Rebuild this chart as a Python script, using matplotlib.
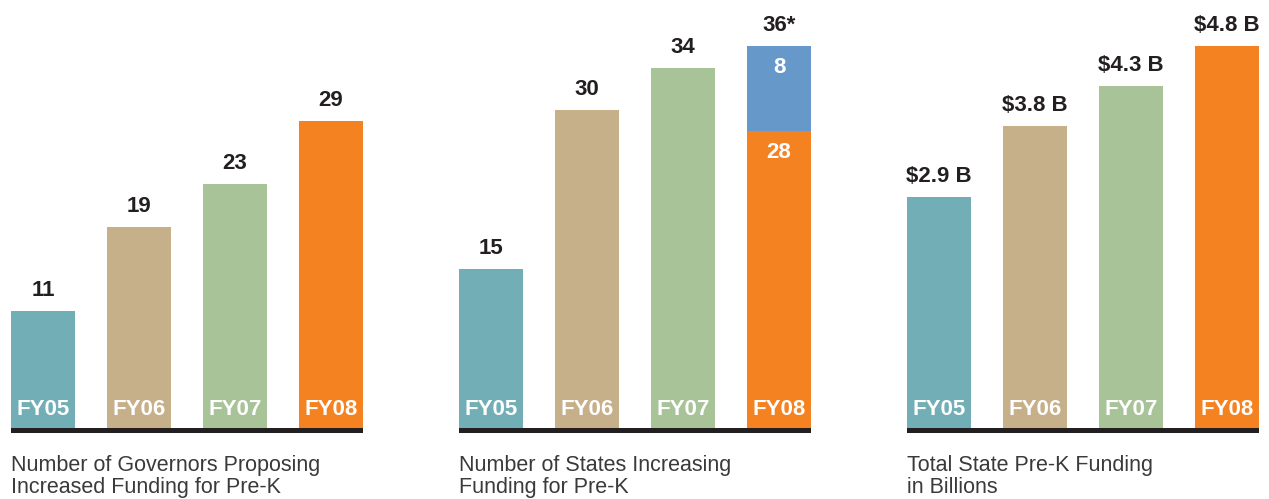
import matplotlib
matplotlib.use("Agg")
import matplotlib.pyplot as plt
from matplotlib.patches import Rectangle

plt.rcParams['font.family'] = ['Liberation Sans', 'DejaVu Sans']

# ---- data ----
years = ["FY05", "FY06", "FY07", "FY08"]
governors = [11, 19, 23, 29]
states_total = [15, 30, 34, 36]
states_fy08_base = 28
states_fy08_extra = 8
funding = [2.9, 3.8, 4.3, 4.8]
funding_labels = ["$2.9 B", "$3.8 B", "$4.3 B", "$4.8 B"]
states_labels = ["15", "30", "34", "36*"]
captions = [
    ["Number of Governors Proposing", "Increased Funding for Pre-K"],
    ["Number of States Increasing", "Funding for Pre-K"],
    ["Total State Pre-K Funding", "in Billions"],
]

colors = ["#72aeb5", "#c6b08a", "#a8c398", "#f58220"]
blue = "#6699c9"
dark = "#231f20"

W, H = 1269, 499
fig = plt.figure(figsize=(W / 100, H / 100), dpi=100)

base_px = 428          # baseline (from top)
panel_left = [11, 459, 907]
panel_w = 352
scales = [10.6, 10.6, 79.5]   # px per unit

axes = []
for i in range(3):
    ax = fig.add_axes([panel_left[i] / W, (H - base_px) / H, panel_w / W, base_px / H])
    ax.set_xlim(-1 / 3, 3 + 1 / 3)
    ax.set_ylim(0, base_px / scales[i])
    ax.axis('off')
    axes.append(ax)
    # baseline bar
    fig.add_artist(Rectangle((panel_left[i] / W, (H - base_px - 5) / H), panel_w / W, 5 / H,
                             transform=fig.transFigure, color="#231f20", lw=0))

x = list(range(4))
bw = 2 / 3
lab_kw = dict(ha='center', va='baseline', fontsize=16, fontweight='bold',
              textcoords='offset pixels')

# Panel 1
ax = axes[0]
ax.bar(x, governors, width=bw, color=colors, linewidth=0)
for xi, v in zip(x, governors):
    ax.annotate(str(v), (xi, v), xytext=(0, 15), color=dark, **lab_kw)

# Panel 2
ax = axes[1]
ax.bar(x[:3], states_total[:3], width=bw, color=colors[:3], linewidth=0)
ax.bar(x[3], states_fy08_base, width=bw, color=colors[3], linewidth=0)
ax.bar(x[3], states_fy08_extra, bottom=states_fy08_base, width=bw, color=blue, linewidth=0)
for xi, v, s in zip(x, states_total, states_labels):
    ax.annotate(s, (xi, v), xytext=(0, 15), color=dark, **lab_kw)
ax.annotate(str(states_fy08_base), (x[3], states_fy08_base), xytext=(0, -27), color='white', **lab_kw)
ax.annotate(str(states_fy08_extra), (x[3], states_fy08_base + states_fy08_extra), xytext=(0, -27),
            color='white', **lab_kw)

# Panel 3
ax = axes[2]
ax.bar(x, funding, width=bw, color=colors, linewidth=0)
for xi, v, s in zip(x, funding, funding_labels):
    ax.annotate(s, (xi, v), xytext=(0, 15), color=dark, **lab_kw)

# Year labels inside bars + captions
for i, ax in enumerate(axes):
    for xi, yl in zip(x, years):
        ax.annotate(yl, (xi, 0), xytext=(0, 13), color='white', **lab_kw)
    fig.text(panel_left[i] / W, (H - 471) / H, captions[i][0], fontsize=15.5, color="#3a3a3a",
             ha='left', va='baseline')
    fig.text(panel_left[i] / W, (H - 493) / H, captions[i][1], fontsize=15.5, color="#3a3a3a",
             ha='left', va='baseline')

fig.savefig("out.png", dpi=100)
